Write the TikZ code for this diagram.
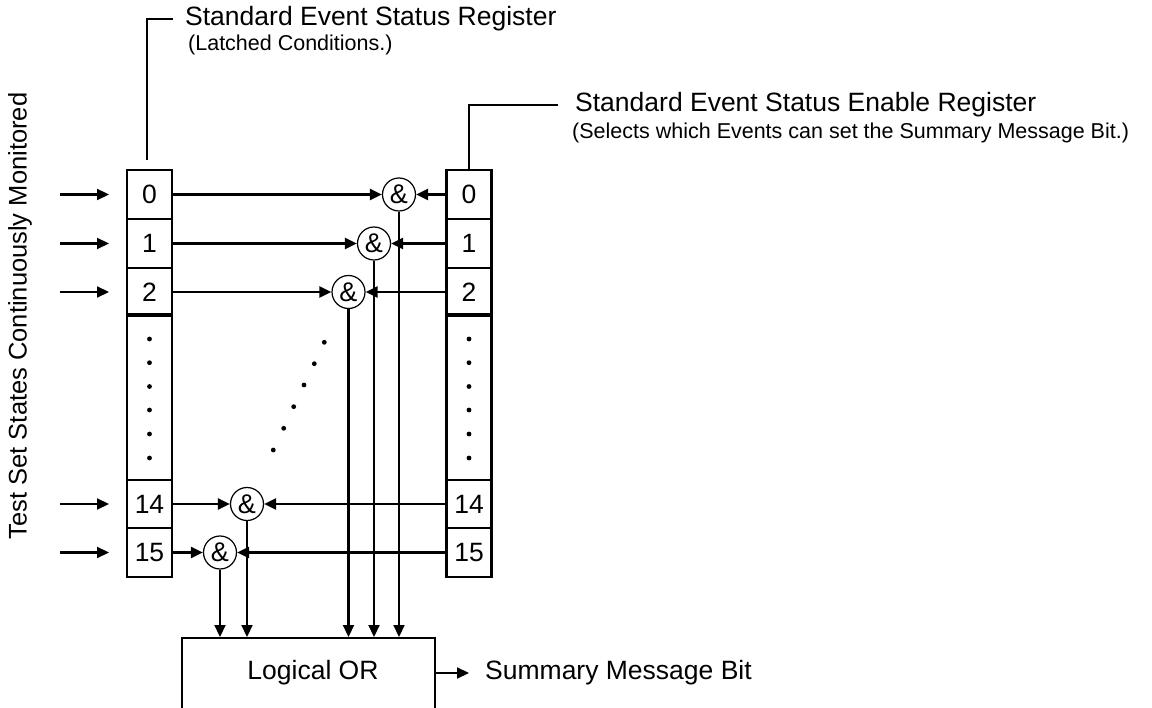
\documentclass[tikz,border=0pt]{standalone}
\usepackage{fontspec}
\setmainfont{Liberation Sans}
\usetikzlibrary{arrows.meta,calc}
\begin{document}
\begin{tikzpicture}[x=1pt,y=-1pt,
  lw/.style={line width=2.2pt},
  arr/.style={line width=2.2pt,-{Triangle[length=12pt,width=11pt]}},
  cell/.style={draw,line width=2.2pt,minimum width=45pt,minimum height=48.5pt,inner sep=0pt,font=\fontsize{26.5}{30}\selectfont},
  dotcell/.style={draw,line width=2.2pt,minimum width=45pt,minimum height=164pt,inner sep=0pt},
  gate/.style={draw,circle,line width=1.2pt,minimum size=33pt,inner sep=0pt,fill=white,font=\fontsize{27}{30}\selectfont},
  big/.style={inner sep=0pt,font=\fontsize{26.5}{30}\selectfont},
  small/.style={inner sep=0pt,font=\fontsize{21.5}{25}\selectfont}]
\useasboundingbox (0,0) rectangle (1152,708);
% left register
\node[cell] (L0) at (149.5,194.5) {0};
\node[cell] (L1) at (149.5,243.5) {1};
\node[cell] (L2) at (149.5,292) {2};
\node[dotcell] (L3) at (149.5,398) {};
\node[cell] (L14) at (149.5,504) {14};
\node[cell] (L15) at (149.5,552.5) {15};
\draw[line width=3.8pt] (L3.north west) -- (L3.north east);
% right register
\node[cell] (R0) at (469,194.5) {0};
\node[cell] (R1) at (469,243.5) {1};
\node[cell] (R2) at (469,292) {2};
\node[dotcell] (R3) at (469,398) {};
\node[cell] (R14) at (469,504) {14};
\node[cell] (R15) at (469,552.5) {15};
\draw[line width=3.8pt] (R3.north west) -- (R3.north east);
\foreach \yy in {339,362.7,386.5,410,434,458}{
  \fill (L3.center |- 0,\yy) circle (2.4pt);
  \fill (R3.center |- 0,\yy) circle (2.4pt);
}
% logical OR
\node[draw,line width=2.2pt,minimum width=253pt,minimum height=74pt,inner sep=0pt,anchor=north] (OR) at (308.5,637) {};
\node[big] (ORT) at (313,673) {Logical OR};
% gates
\node[gate] (G0) at (399,194.5) {\&};
\node[gate] (G1) at (374,243.5) {\&};
\node[gate] (G2) at (348.5,292) {\&};
\node[gate] (G14) at (247,504) {\&};
\node[gate] (G15) at (220,552.5) {\&};
\foreach \g in {G0,G1,G2,G14,G15}{
  \draw[arr] (\g.south) -- (\g.south |- OR.north);
}
\foreach \i in {0,1,2,14,15}{
  \draw[arr] (L\i.east) -- (G\i.west);
  \draw[arr] (R\i.west) -- (G\i.east);
}
% diagonal dots
\foreach \xx/\yy in {324.3/342.3,314.3/363.7,304/385,293.7/406.7,283.7/428.3,273.3/450}{
  \fill (\xx,\yy) circle (2.4pt);
}
% inputs
\foreach \i/\yy in {0/194.5,1/243.5,2/292,14/504,15/552.5}{
  \coordinate (IA\i) at (60,\yy);
  \coordinate (IB\i) at (109,\yy);
  \draw[arr] (IA\i) -- (IB\i);
}
\node[inner sep=0pt,font=\fontsize{25.5}{29}\selectfont,rotate=90] (TS) at (20,316) {Test Set States Continuously Monitored};
% output
\node[big,anchor=west] (SMB) at (485,673) {Summary Message Bit};
\draw[arr] (OR.east |- SMB.west) -- ($(SMB.west)+(-16,0)$);
% titles
\node[big,anchor=west] (T1) at (185,19) {Standard Event Status Register};
\node[small,anchor=west] (T1b) at (188,45) {(Latched Conditions.)};
\coordinate (C1) at (147,160);
\draw[lw] (C1) |- ($(T1.west)+(-12,0)$);
\node[big,anchor=west] (T2) at (575,105) {Standard Event Status Enable Register};
\node[small,anchor=west] (T2b) at (572,133) {(Selects which Events can set the Summary Message Bit.)};
\draw[lw] (R0.north) |- ($(T2.west)+(-17,0)$);
\end{tikzpicture}
\end{document}
